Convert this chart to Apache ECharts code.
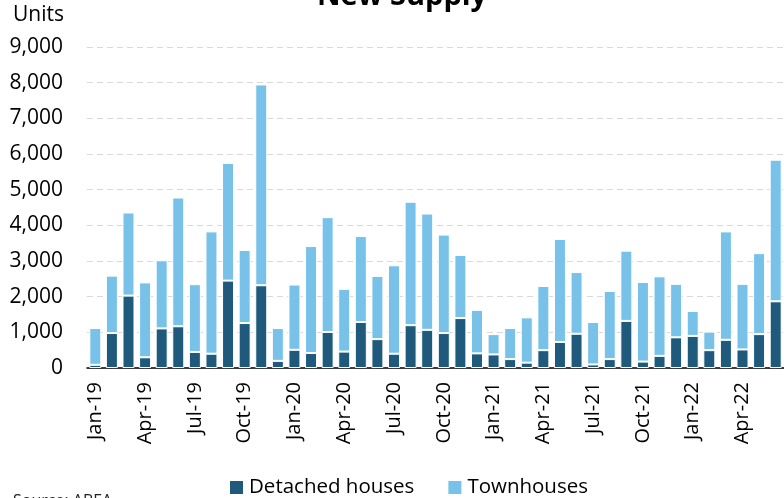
<!DOCTYPE html>
<html>
<head>
<meta charset="utf-8">
<script src="https://cdn.jsdelivr.net/npm/echarts@6/dist/echarts.min.js"></script>
<style>
  html, body { margin: 0; padding: 0; background: #fff; }
  #chart { width: 784px; height: 498px; }
</style>
</head>
<body>
<div id="chart"></div>
<script>
// Monthly new supply, Jan-19 to Jun-22
const months = [
  'Jan-19','Feb-19','Mar-19','Apr-19','May-19','Jun-19','Jul-19','Aug-19','Sep-19','Oct-19','Nov-19','Dec-19',
  'Jan-20','Feb-20','Mar-20','Apr-20','May-20','Jun-20','Jul-20','Aug-20','Sep-20','Oct-20','Nov-20','Dec-20',
  'Jan-21','Feb-21','Mar-21','Apr-21','May-21','Jun-21','Jul-21','Aug-21','Sep-21','Oct-21','Nov-21','Dec-21',
  'Jan-22','Feb-22','Mar-22','Apr-22','May-22','Jun-22'
];

const detached = [
  90, 980, 2030, 300, 1110, 1170, 450, 400, 2450, 1260, 2320, 200,
  510, 420, 1010, 460, 1290, 810, 400, 1200, 1070, 980, 1400, 410,
  380, 250, 150, 500, 730, 960, 100, 250, 1320, 180, 340, 860,
  900, 500, 790, 520, 950, 1870
];

const townhouses = [
  1030, 1610, 2330, 2100, 1910, 3610, 1900, 3430, 3300, 2050, 5630, 920,
  1830, 3000, 3220, 1760, 2410, 1770, 2480, 3460, 3260, 2760, 1770, 1220,
  570, 870, 1270, 1800, 2890, 1730, 1190, 1910, 1970, 2230, 2230, 1500,
  700, 520, 3040, 1840, 2270, 3970
];

const yTicks = { min: 0, max: 9000, interval: 1000 };

const chart = echarts.init(document.getElementById('chart'), null, { renderer: 'canvas' });

const baseFont = 'Open Sans';

chart.setOption({
  animation: false,
  backgroundColor: '#ffffff',
  textStyle: { fontFamily: baseFont },
  grid: { left: 87, right: 0, top: 47, bottom: 130, containLabel: false },
  legend: {
    top: 477,
    left: 228,
    padding: 0,
    itemWidth: 15,
    itemHeight: 15,
    itemGap: 32,
    itemTextGap: 4,
    icon: 'rect',
    textStyle: { fontSize: 20.5, color: '#000', fontFamily: baseFont },
    data: ['Detached houses', 'Townhouses']
  },
  xAxis: {
    type: 'category',
    data: months,
    boundaryGap: true,
    axisLine: { lineStyle: { color: '#000', width: 1.5 } },
    axisTick: { interval: 2, length: 7, lineStyle: { color: '#000', width: 2 } },
    axisLabel: {
      interval: 2,
      rotate: 90,
      fontSize: 20,
      color: '#000',
      margin: 14,
      fontFamily: baseFont
    }
  },
  yAxis: {
    type: 'value',
    min: yTicks.min,
    max: yTicks.max,
    interval: yTicks.interval,
    axisLine: { show: false },
    axisTick: { show: false },
    splitLine: { lineStyle: { color: '#d9d9d9', type: [6, 4], width: 1 } },
    axisLabel: {
      fontSize: 21,
      color: '#000',
      margin: 24,
      fontFamily: baseFont,
      formatter: v => v.toLocaleString('en-US')
    }
  },
  series: [
    {
      name: 'Detached houses',
      type: 'bar',
      stack: 'supply',
      data: detached,
      barWidth: 12,
      itemStyle: { color: '#1f5a7d', borderColor: '#ffffff', borderWidth: 1 }
    },
    {
      name: 'Townhouses',
      type: 'bar',
      stack: 'supply',
      data: townhouses,
      barWidth: 12,
      itemStyle: { color: '#78c2e9', borderColor: '#ffffff', borderWidth: 1 }
    }
  ],
  graphic: [
    {
      type: 'text',
      left: 13,
      top: 5,
      style: { text: 'Units', fontSize: 21, fill: '#000', fontFamily: baseFont }
    },
    {
      type: 'text',
      x: 402,
      y: -18,
      style: {
        text: 'New Supply',
        fontSize: 29,
        fontWeight: 'bold',
        fill: '#000',
        fontFamily: baseFont,
        align: 'center',
        verticalAlign: 'top'
      }
    },
    {
      type: 'text',
      x: 13,
      y: 493,
      style: { text: 'Source: ABEA', fontSize: 16, fill: '#222', fontFamily: baseFont, verticalAlign: 'top' }
    }
  ]
});
</script>
</body>
</html>
